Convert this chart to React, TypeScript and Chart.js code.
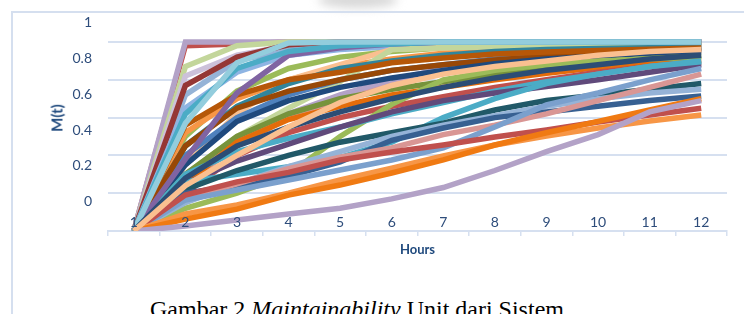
import React, { useEffect, useRef } from "react";
import { Chart, registerables } from "chart.js";

Chart.register(...registerables);

// Categories (hours)
const hours = ["1", "2", "3", "4", "5", "6", "7", "8", "9", "10", "11", "12"];

// Y tick labels
const yTickValues = [0, 0.2, 0.4, 0.6, 0.8, 1];

// Series values M(t) (x = 1..12)
const m01 = [0, 0.98, 0.99, 1, 1, 1, 1, 1, 1, 1, 1, 1];
const m02 = [0, 1, 1, 1, 1, 1, 1, 1, 1, 1, 1, 1];
const m03 = [0, 0.87, 0.98, 1, 1, 1, 1, 1, 1, 1, 1, 1];
const m04 = [0, 0.82, 0.93, 0.98, 1, 1, 1, 1, 1, 1, 1, 1];
const m05 = [0, 0.72, 0.9, 0.96, 0.98, 0.99, 1, 1, 1, 1, 1, 1];
const m06 = [0, 0.77, 0.92, 0.985, 1, 1, 1, 1, 1, 1, 1, 1];
const m07 = [0, 0.65, 0.84, 0.93, 0.96, 0.975, 0.985, 0.99, 0.99, 0.99, 0.99, 0.99];
const m08 = [0, 0.5, 0.74, 0.86, 0.92, 0.95, 0.97, 0.98, 0.98, 0.985, 0.99, 0.99];
const m09 = [0, 0.52, 0.7, 0.8, 0.87, 0.91, 0.94, 0.955, 0.965, 0.975, 0.98, 0.985];
const m10 = [0, 0.35, 0.62, 0.8, 0.88, 0.96, 0.97, 0.975, 0.98, 0.98, 0.985, 0.985];
const m11 = [0, 0.3, 0.5, 0.65, 0.79, 0.96, 0.97, 0.975, 0.98, 0.98, 0.985, 0.985];
const m12 = [0, 0.25, 0.45, 0.6, 0.7, 0.78, 0.84, 0.88, 0.91, 0.93, 0.95, 0.96];
const m13 = [0, 0.3, 0.48, 0.62, 0.72, 0.8, 0.86, 0.9, 0.93, 0.95, 0.96, 0.97];
const m14 = [0, 0.4, 0.6, 0.72, 0.8, 0.85, 0.88, 0.91, 0.93, 0.95, 0.96, 0.97];
const m15 = [0, 0.45, 0.66, 0.78, 0.86, 0.9, 0.93, 0.95, 0.96, 0.965, 0.97, 0.975];
const m16 = [0, 0.45, 0.65, 0.74, 0.8, 0.85, 0.88, 0.905, 0.925, 0.94, 0.95, 0.955];
const m17 = [0, 0.56, 0.72, 0.8, 0.84, 0.89, 0.915, 0.936, 0.947, 0.955, 0.962, 0.968];
const m18 = [0, 0.35, 0.58, 0.69, 0.76, 0.81, 0.85, 0.885, 0.91, 0.925, 0.94, 0.947];
const m19 = [0, 0.3, 0.5, 0.62, 0.7, 0.75, 0.79, 0.83, 0.865, 0.895, 0.913, 0.926];
const m20 = [0, 0.25, 0.47, 0.59, 0.66, 0.72, 0.76, 0.8, 0.835, 0.865, 0.887, 0.905];
const m21 = [0, 0.2, 0.4, 0.52, 0.6, 0.66, 0.71, 0.76, 0.8, 0.84, 0.87, 0.89];
const m22 = [0, 0.12, 0.2, 0.3, 0.5, 0.67, 0.8, 0.85, 0.88, 0.9, 0.91, 0.92];
const m23 = [0, 0.3, 0.42, 0.49, 0.55, 0.62, 0.68, 0.74, 0.79, 0.83, 0.87, 0.9];
const m24 = [0, 0.25, 0.37, 0.46, 0.55, 0.63, 0.69, 0.73, 0.765, 0.8, 0.84, 0.88];
const m25 = [0, 0.26, 0.3, 0.34, 0.39, 0.47, 0.6, 0.7, 0.78, 0.83, 0.87, 0.895];
const m26 = [0, 0.22, 0.32, 0.4, 0.47, 0.52, 0.57, 0.64, 0.69, 0.72, 0.75, 0.78];
const m27 = [0, 0.15, 0.25, 0.34, 0.42, 0.5, 0.56, 0.61, 0.66, 0.7, 0.73, 0.75];
const m28 = [0, 0.2, 0.24, 0.29, 0.365, 0.48, 0.545, 0.6, 0.63, 0.66, 0.69, 0.714];
const m29 = [0, 0.17, 0.25, 0.33, 0.39, 0.44, 0.51, 0.56, 0.62, 0.69, 0.76, 0.83];
const m30 = [0, 0.164, 0.217, 0.27, 0.323, 0.376, 0.44, 0.55, 0.667, 0.73, 0.8, 0.86];
const m31 = [0, 0.19, 0.26, 0.31, 0.376, 0.418, 0.455, 0.497, 0.534, 0.577, 0.614, 0.65];
const m32 = [0, 0.09, 0.138, 0.2, 0.27, 0.333, 0.397, 0.455, 0.503, 0.545, 0.582, 0.614];
const m33 = [0, 0.063, 0.116, 0.19, 0.243, 0.307, 0.376, 0.455, 0.52, 0.58, 0.64, 0.7];
const m34 = [0, 0.026, 0.058, 0.09, 0.12, 0.17, 0.23, 0.32, 0.42, 0.51, 0.63, 0.69];
const m35 = [0, 0.38, 0.73, 0.93, 0.97, 0.99, 1, 1, 1, 1, 1, 1];
const m36 = [0, 0.62, 0.86, 0.95, 0.98, 0.99, 1, 1, 1, 1, 1, 1];
const m37 = [0, 0.57, 0.89, 0.995, 1, 1, 1, 1, 1, 1, 1, 1];
const m38 = [0, 0.28, 0.45, 0.55, 0.63, 0.7, 0.76, 0.81, 0.85, 0.88, 0.91, 0.93];
const m39 = [0, 0.24, 0.4, 0.55, 0.68, 0.77, 0.83, 0.87, 0.9, 0.93, 0.95, 0.96];

const seriesList = [
  m01, m02, m03, m04, m05, m06, m07, m08, m09, m10,
  m11, m12, m13, m14, m15, m16, m17, m18, m19, m20,
  m21, m22, m23, m24, m25, m26, m27, m28, m29, m30,
  m31, m32, m33, m34, m35, m36, m37, m38, m39,
];

const lineColors = [
  "#C0504D", "#B3A2C7", "#C3D69B", "#CCC1DA", "#95B3D7", "#953735", "#8EB4E3", "#9BBB59", "#F79646", "#FAC090",
  "#C3D69B", "#DA9694", "#B3A2C7", "#4F81BD", "#31859C", "#984807", "#B65708", "#1F497D", "#77933C", "#E46C0A",
  "#C0504D", "#9BBB59", "#4BACC6", "#604A7B", "#4BACC6", "#215968", "#95B3D7", "#376092", "#D99694", "#7BA0CD",
  "#C0504D", "#F79646", "#F07A12", "#B3A2C7", "#8064A2", "#4BACC6", "#93CDDD", "#2C4D75", "#FAC090",
];

const GRID = "#D6E0F0";
const TEXT = "#2E4D7B";

export default function App() {
  const ref = useRef<HTMLCanvasElement | null>(null);

  useEffect(() => {
    if (!ref.current) return;
    const n = seriesList.length;
    const chart = new Chart(ref.current, {
      type: "line",
      data: {
        labels: hours,
        datasets: seriesList.map((d, i) => ({
          label: "S" + (i + 1),
          data: d,
          borderColor: lineColors[i],
          backgroundColor: lineColors[i],
          borderWidth: 5.5,
          pointRadius: 0,
          pointHoverRadius: 0,
          fill: false,
          tension: 0,
          order: n - i,
        })),
      },
      options: {
        responsive: false,
        animation: false,
        events: [],
        layout: { padding: { left: 0, top: 19, right: 17, bottom: 0 } },
        plugins: { legend: { display: false }, tooltip: { enabled: false } },
        scales: {
          x: {
            type: "category",
            offset: true,
            grid: {
              display: true,
              drawOnChartArea: false,
              drawTicks: true,
              tickLength: 5,
              offset: true,
              color: GRID,
              lineWidth: 1.5,
            },
            border: { display: true, color: GRID, width: 2 },
            ticks: {
              autoSkip: false,
              maxRotation: 0,
              mirror: true,
              padding: 0.6,
              z: 1,
              color: TEXT,
              font: { family: "Lato", size: 14 },
            },
            title: {
              display: true,
              text: "Hours",
              color: "#1F497D",
              font: { family: "Lato", size: 13, weight: "bold" },
              padding: { top: 4, bottom: 4 },
            },
            afterFit: (s: any) => {
              s.height = 31;
            },
          },
          y: {
            type: "linear",
            position: "left",
            weight: 0,
            min: 0,
            max: 1.1217,
            afterBuildTicks: (s: any) => {
              s.ticks = yTickValues.map((v) => ({ value: v }));
            },
            grid: { color: GRID, lineWidth: 2, drawTicks: false },
            border: { display: false },
            ticks: { display: false },
            afterFit: (s: any) => {
              s.width = 16;
            },
          },
          yl: {
            type: "linear",
            position: "left",
            weight: 1,
            min: -0.1637,
            max: 1.0207,
            afterBuildTicks: (s: any) => {
              s.ticks = yTickValues.map((v) => ({ value: v }));
            },
            grid: { display: false, drawTicks: false, drawOnChartArea: false },
            border: { display: false },
            ticks: {
              padding: 0,
              color: TEXT,
              font: { family: "Lato", size: 14 },
              callback: (v: any) => String(Math.round(Number(v) * 10) / 10),
            },
            afterFit: (s: any) => {
              s.width = 92;
            },
          },
        },
      },
    });
    return () => chart.destroy();
  }, []);

  return (
    <div
      style={{
        position: "fixed",
        left: 0,
        top: 0,
        width: 744,
        height: 314,
        overflow: "hidden",
        background: "#ffffff",
      }}
    >
      <div
        style={{
          position: "absolute",
          left: 318,
          top: -8,
          width: 80,
          height: 16,
          borderRadius: "50%",
          background: "#d8d8d8",
          filter: "blur(5px)",
        }}
      />
      <div
        style={{
          position: "absolute",
          left: 11,
          top: 11,
          width: 800,
          height: 400,
          borderLeft: "2px solid #D5DFEF",
          borderTop: "2px solid #D5DFEF",
        }}
      />
      <canvas
        ref={ref}
        width={744}
        height={262}
        style={{ position: "absolute", left: 0, top: 0, width: 744, height: 262 }}
      />
      <div
        style={{
          position: "absolute",
          left: 57,
          top: 118,
          width: 0,
          height: 0,
        }}
      >
        <div
          style={{
            position: "absolute",
            left: 0,
            top: 0,
            transform: "translate(-50%, -50%) rotate(-90deg)",
            fontFamily: "Lato",
            fontWeight: "bold",
            fontSize: 15,
            color: "#1F497D",
            whiteSpace: "nowrap",
            lineHeight: "15px",
          }}
        >
          M(t)
        </div>
      </div>
      <div
        style={{
          position: "absolute",
          left: 150,
          top: 297,
          fontFamily: "'Liberation Serif', 'Times New Roman', serif",
          fontSize: 24,
          lineHeight: "24px",
          color: "#000",
          whiteSpace: "nowrap",
        }}
      >
        Gambar 2 <i>Maintainability</i> Unit dari Sistem
      </div>
    </div>
  );
}
